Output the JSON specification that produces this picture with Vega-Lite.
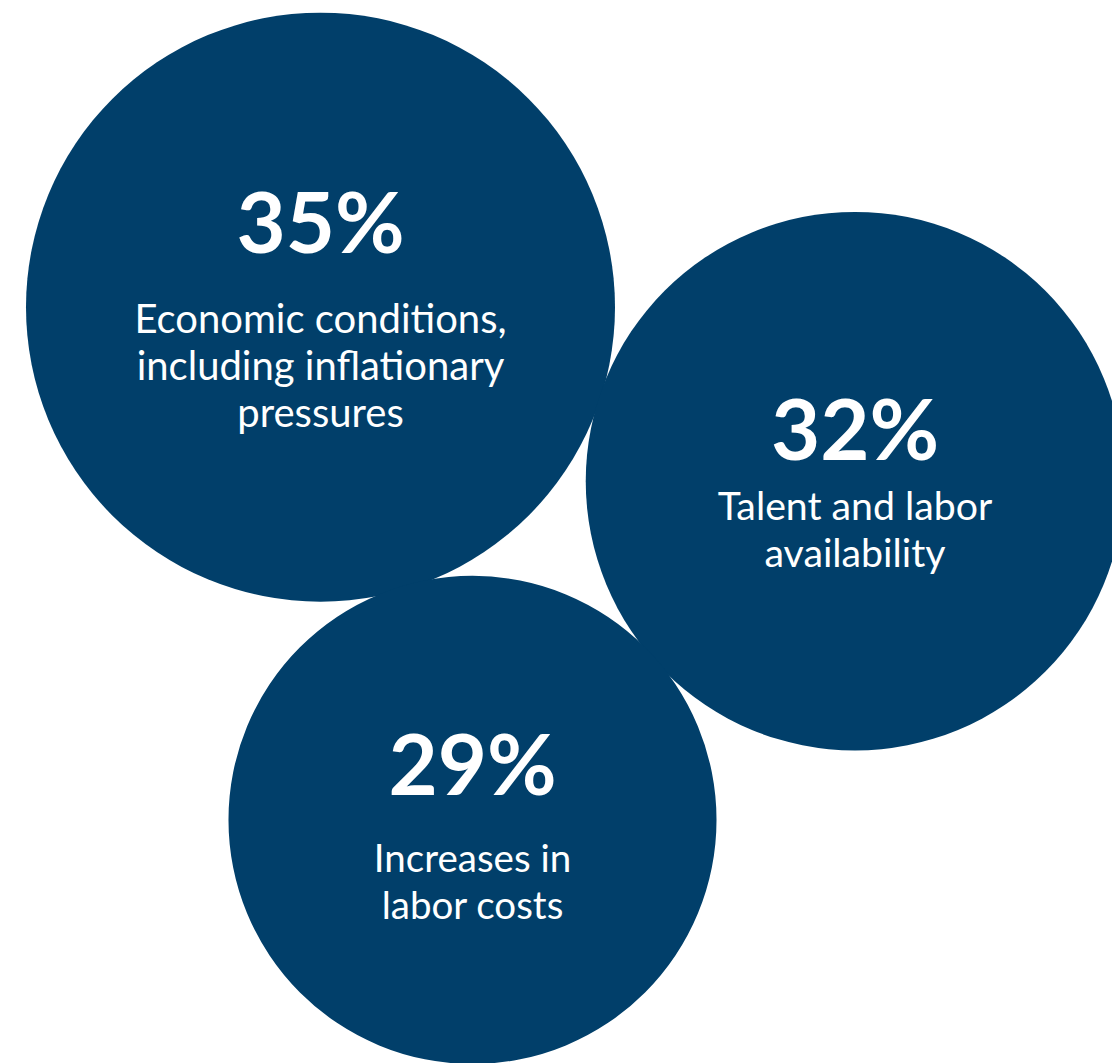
{
  "$schema": "https://vega.github.io/schema/vega-lite/v6.json",
  "width": 1112,
  "height": 1063,
  "autosize": {"type": "none"},
  "padding": 0,
  "background": "white",
  "config": {"view": {"stroke": null}},
  "data": {
    "values": [
      {"id": "A", "value": 35, "pct": "35%", "label": "Economic conditions,\nincluding inflationary\npressures", "cx": 320.5, "cy": 307.2, "ty": 253, "ly": 333},
      {"id": "B", "value": 32, "pct": "32%", "label": "Talent and labor\navailability", "cx": 855, "cy": 481.2, "ty": 460, "ly": 520},
      {"id": "C", "value": 29, "pct": "29%", "label": "Increases in\nlabor costs", "cx": 472.5, "cy": 819.9, "ty": 795, "ly": 872}
    ]
  },
  "layer": [
    {
      "mark": {"type": "point", "shape": "circle", "filled": true, "color": "#013F6A", "opacity": 1, "strokeWidth": 0, "clip": false},
      "encoding": {
        "x": {"field": "cx", "type": "quantitative", "scale": {"domain": [0, 1112], "nice": false, "zero": false}, "axis": null},
        "y": {"field": "cy", "type": "quantitative", "scale": {"domain": [0, 1063], "nice": false, "zero": false, "reverse": true}, "axis": null},
        "size": {"field": "value", "type": "quantitative", "scale": {"type": "pow", "exponent": 2, "domain": [0, 35], "range": [0, 346921]}, "legend": null}
      }
    },
    {
      "mark": {"type": "text", "font": "Lato", "fontWeight": "bold", "fontSize": 85, "color": "white", "align": "center", "baseline": "alphabetic"},
      "encoding": {
        "x": {"field": "cx", "type": "quantitative"},
        "y": {"field": "ty", "type": "quantitative"},
        "text": {"field": "pct"}
      }
    },
    {
      "mark": {"type": "text", "font": "Lato", "fontWeight": "normal", "color": "white", "align": "center", "baseline": "alphabetic", "lineBreak": "\n", "lineHeight": 47},
      "encoding": {
        "x": {"field": "cx", "type": "quantitative"},
        "y": {"field": "ly", "type": "quantitative"},
        "text": {"field": "label"},
        "size": {"field": "id", "type": "nominal", "scale": {"domain": ["A", "B", "C"], "range": [40, 38.5, 40.5]}, "legend": null}
      }
    }
  ],
  "resolve": {"scale": {"size": "independent"}}
}
